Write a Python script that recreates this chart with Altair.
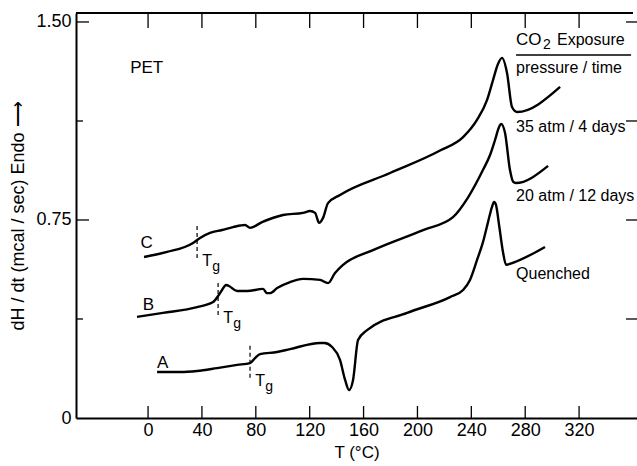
import altair as alt
import pandas as pd

# --- DSC traces of PET: temperature (°C) and heat flow dH/dt (mcal/sec) ---
# A: quenched
temp_a = [6.7, 23.8, 36.4, 51.2, 66.1, 75.7, 79.4, 83.1, 95.8, 105.4, 127.7, 131.0,
          136.6, 142.5, 146.3, 149.2, 152.2, 155.9, 162.6, 192.3, 224.2, 233.9, 239.0,
          244.2, 248.7, 252.4, 255.3, 256.9, 258.3, 260.6, 263.5, 265.8, 268.0, 294.7]
heat_a = [0.174, 0.174, 0.178, 0.189, 0.201, 0.208, 0.227, 0.242, 0.250, 0.261, 0.284, 0.284,
          0.269, 0.220, 0.144, 0.106, 0.144, 0.295, 0.333, 0.398, 0.458, 0.485, 0.523,
          0.598, 0.667, 0.742, 0.799, 0.818, 0.807, 0.731, 0.629, 0.580, 0.583, 0.648]

# B: 20 atm CO2 / 12 days
temp_b = [-8.2, 11.1, 36.4, 48.3, 52.0, 54.9, 57.9, 60.1, 66.1, 73.5, 85.4, 88.3, 90.6,
          95.8, 105.4, 115.1, 127.7, 133.6, 138.8, 144.8, 167.0, 204.2,
          226.4, 237.5, 248.7, 253.9, 257.6, 260.6, 262.1, 265.0, 268.7, 271.0, 273.0, 297.0]
heat_b = [0.383, 0.398, 0.420, 0.439, 0.462, 0.485, 0.504, 0.500, 0.481, 0.481, 0.489, 0.473, 0.473,
          0.492, 0.515, 0.527, 0.523, 0.511, 0.549, 0.580, 0.636, 0.712,
          0.761, 0.835, 0.940, 0.996, 1.053, 1.102, 1.114, 1.080, 0.939, 0.895, 0.890, 0.955]

# C: 35 atm CO2 / 4 days
temp_c = [-3.0, 14.1, 33.4, 38.6, 46.0, 54.9, 63.1, 72.0, 75.7, 84.6, 100.2, 115.1, 120.3,
          124.0, 127.0, 129.9, 133.6, 142.5, 179.7, 216.8, 233.9, 244.2, 251.7, 256.1,
          259.8, 262.8, 266.5, 270.2, 274.0, 305.9]
heat_c = [0.610, 0.629, 0.663, 0.682, 0.701, 0.712, 0.723, 0.731, 0.720, 0.742, 0.769, 0.777, 0.784,
          0.777, 0.739, 0.758, 0.814, 0.845, 0.928, 1.013, 1.064, 1.129, 1.205, 1.280,
          1.341, 1.364, 1.307, 1.178, 1.159, 1.254]

# glass transition markers (C, B, A): temperature and vertical extent
tg_temp = [36.4, 52.0, 75.7]
tg_low = [0.606, 0.390, 0.152]
tg_high = [0.739, 0.519, 0.284]

# curve letters
curve_names = ["A", "B", "C"]
curve_name_t = [10.9, 0.2, -1.0]
curve_name_h = [0.209, 0.428, 0.662]

# exposure conditions written beside each trace end
legend_texts = ["pressure / time", "35 atm / 4 days", "20 atm / 12 days", "Quenched"]
legend_h = [1.326, 1.104, 0.841, 0.545]
legend_t = 273.2
legend_rule_end = 358.6
legend_head_h = 1.432
legend_rule_h = 1.375

# axis ticks
x_ticks = [0, 40, 80, 120, 160, 200, 240, 280, 320]
y_labels = [0, 0.75, 1.5]
y_major = [0.75, 1.5]
y_minor = [0.375, 1.125]
y_right = [0.375, 0.75, 1.125, 1.5]

W, H = 561, 405
FONT = "Liberation Sans"

xs = alt.Scale(domain=[-53.5, 363], nice=False, zero=False)
ys = alt.Scale(domain=[0, 1.534], nice=False, zero=False)
x_axis = alt.Axis(values=x_ticks, ticks=False, grid=False, domainWidth=2, domainColor="black",
                  labelFontSize=18, labelPadding=3, labelColor="black", labelFont=FONT,
                  title="T (°C)", titleFontSize=17, titleFontWeight="normal", titleFont=FONT,
                  titleColor="black", titlePadding=5)
y_axis = alt.Axis(values=y_labels, ticks=False, grid=False, domainWidth=2, domainColor="black",
                  labelExpr="datum.value == 0 ? '0' : format(datum.value, '.2f')",
                  labelFontSize=18, labelPadding=5, labelColor="black", labelFont=FONT,
                  title="dH / dt  (mcal / sec)  Endo ⟶", titleFontSize=18, titleFontWeight="normal",
                  titleFont=FONT, titleColor="black", titlePadding=8)

X = alt.X("T:Q", scale=xs, axis=x_axis)
Y = alt.Y("H:Q", scale=ys, axis=y_axis)

rows = []
for name, ts, hs in (("A", temp_a, heat_a), ("B", temp_b, heat_b), ("C", temp_c, heat_c)):
    for i, (t, h) in enumerate(zip(ts, hs)):
        rows.append({"curve": name, "seq": i, "T": t, "H": h})
curves_df = pd.DataFrame(rows)

curves = alt.Chart(curves_df).mark_line(
    color="black", strokeWidth=2.4, interpolate="monotone"
).encode(x=X, y=Y, detail="curve:N", order="seq:Q")

tg_df = pd.DataFrame({"T": tg_temp, "H": tg_low, "H2": tg_high})
tg_rules = alt.Chart(tg_df).mark_rule(color="black", strokeWidth=1.2, strokeDash=[4, 3]).encode(
    x=X, y=Y, y2="H2:Q")
tg_t = alt.Chart(tg_df).mark_text(text="T", font=FONT, fontSize=16, dx=10, dy=3, color="black").encode(x=X, y=Y)
tg_g = alt.Chart(tg_df).mark_text(text="g", font=FONT, fontSize=14, dx=19, dy=9, color="black").encode(x=X, y=Y)

names_df = pd.DataFrame({"T": curve_name_t, "H": curve_name_h, "label": curve_names})
names = alt.Chart(names_df).mark_text(font=FONT, fontSize=17, color="black").encode(x=X, y=Y, text="label:N")

leg_df = pd.DataFrame({"T": [legend_t] * len(legend_texts), "H": legend_h, "label": legend_texts})
leg = alt.Chart(leg_df).mark_text(font=FONT, fontSize=16, align="left", color="black").encode(
    x=X, y=Y, text="label:N")

head_df = pd.DataFrame({"T": [legend_t], "H": [legend_head_h]})
head_co = alt.Chart(head_df).mark_text(text="CO", font=FONT, fontSize=17, align="left", color="black").encode(x=X, y=Y)
head_2 = alt.Chart(head_df).mark_text(text="2", font=FONT, fontSize=14, align="left", dx=27, dy=5, color="black").encode(x=X, y=Y)
head_exp = alt.Chart(head_df).mark_text(text="Exposure", font=FONT, fontSize=16, align="left", dx=41, color="black").encode(x=X, y=Y)

rule_df = pd.DataFrame({"T": [legend_t], "T2": [legend_rule_end], "H": [legend_rule_h]})
head_rule = alt.Chart(rule_df).mark_rule(color="black", strokeWidth=1.5).encode(x=X, x2="T2:Q", y=Y)

pet_df = pd.DataFrame({"T": [-1.0], "H": [1.326]})
pet = alt.Chart(pet_df).mark_text(text="PET", font=FONT, fontSize=17, color="black").encode(x=X, y=Y)

# inward ticks on all four sides
xt_df = pd.DataFrame({"T": x_ticks})
bottom_ticks = alt.Chart(xt_df).mark_rule(color="black", strokeWidth=1.3).encode(
    x=X, y=alt.value(H - 12), y2=alt.value(H))
top_ticks = alt.Chart(xt_df).mark_rule(color="black", strokeWidth=1.3).encode(
    x=X, y=alt.value(0), y2=alt.value(15))
left_major = alt.Chart(pd.DataFrame({"H": y_major})).mark_rule(color="black", strokeWidth=1.3).encode(
    y=Y, x=alt.value(0), x2=alt.value(13))
left_minor = alt.Chart(pd.DataFrame({"H": y_minor})).mark_rule(color="black", strokeWidth=1.3).encode(
    y=Y, x=alt.value(0), x2=alt.value(7))
right_ticks = alt.Chart(pd.DataFrame({"H": y_right})).mark_rule(color="black", strokeWidth=1.3).encode(
    y=Y, x=alt.value(W - 11), x2=alt.value(W))
top_line = alt.Chart(pd.DataFrame({"H": [1.534]})).mark_rule(color="black", strokeWidth=2).encode(
    y=Y, x=alt.value(0), x2=alt.value(W - 4))

chart = alt.layer(
    curves, tg_rules, tg_t, tg_g, names, leg, head_co, head_2, head_exp, head_rule, pet,
    bottom_ticks, top_ticks, left_major, left_minor, right_ticks, top_line
).properties(
    width=W, height=H,
    padding={"left": 76, "top": 13, "right": 0, "bottom": 48},
    autosize=alt.AutoSizeParams(type="none"),
    background="white",
).configure_view(stroke=None)

chart.save("out.html", embed_options={"renderer": "svg", "actions": False})
